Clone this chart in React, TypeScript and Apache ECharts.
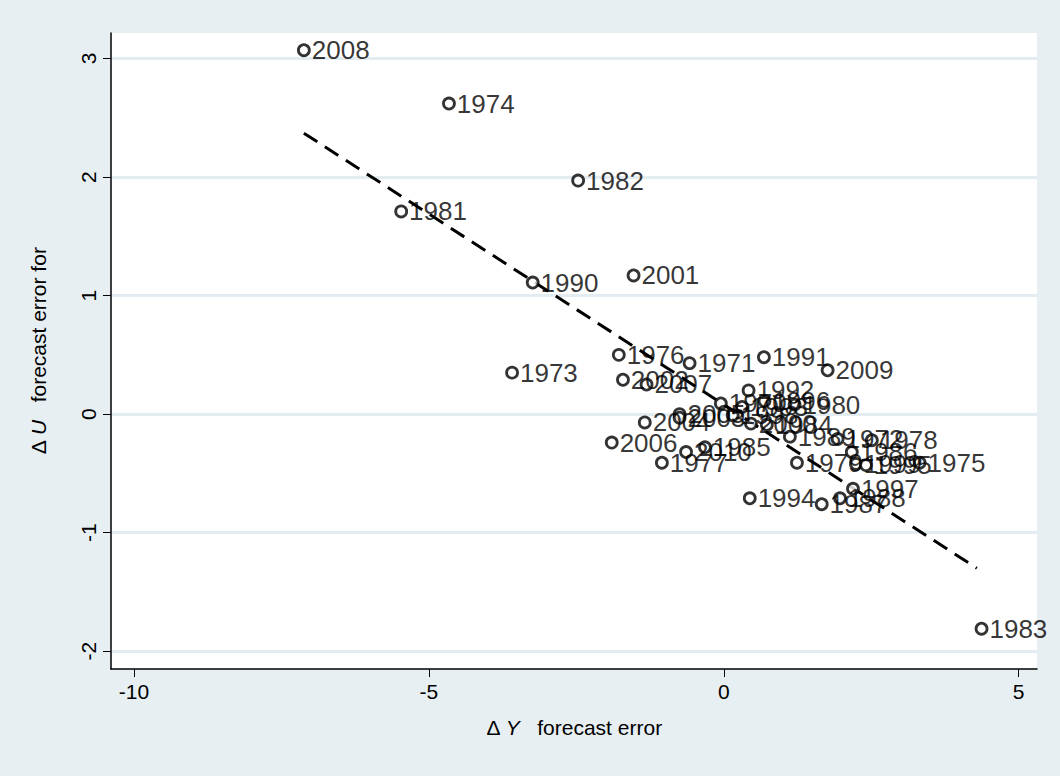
import { useEffect, useRef } from "react";
import * as echarts from "echarts";

const years = [
  "2008", "1974", "1982", "1981", "1990", "2001", "1976", "1973", "2002", "2007",
  "1971", "1991", "2009", "1992", "1970", "1993", "1996", "1980", "2005", "2003",
  "2004", "2000", "1998", "1984", "1989", "1972", "1978", "1986", "1999", "1995",
  "1975", "2006", "1985", "2010", "1977", "1979", "1994", "1987", "1997", "1988",
  "1983",
];
const dY = [
  -7.12, -4.66, -2.47, -5.47, -3.24, -1.53, -1.78, -3.59, -1.71, -1.31,
  -0.58, 0.68, 1.76, 0.42, -0.05, 0.31, 0.69, 1.2, -0.75, -0.75,
  -1.34, 0.46, 0.15, 0.73, 1.12, 1.93, 2.51, 2.17, 2.24, 2.41,
  3.32, -1.9, -0.32, -0.64, -1.05, 1.24, 0.44, 1.66, 2.19, 1.97,
  4.37,
];
const dU = [
  3.07, 2.62, 1.97, 1.71, 1.11, 1.17, 0.5, 0.35, 0.29, 0.25,
  0.43, 0.48, 0.37, 0.2, 0.09, 0.06, 0.11, 0.08, 0.0, -0.03,
  -0.07, -0.08, -0.01, -0.09, -0.19, -0.21, -0.22, -0.32, -0.42, -0.43,
  -0.41, -0.24, -0.28, -0.32, -0.41, -0.41, -0.71, -0.76, -0.63, -0.71,
  -1.81,
];
const fitX = [-7.12, 4.29];
const fitY = [2.37, -1.3];
const xTicks = [-10, -5, 0, 5];
const yTicks = [-2, -1, 0, 1, 2, 3];

export default function App() {
  const ref = useRef<HTMLDivElement>(null);

  useEffect(() => {
    document.body.style.margin = "0";
    if (!ref.current) return;
    const chart = echarts.init(ref.current, null, { renderer: "svg" });
    const font = "Arial, 'Liberation Sans', sans-serif";
    const rich = {
      a: { fontSize: 21, color: "#000", fontFamily: font },
      b: { fontSize: 21, color: "#000", fontStyle: "italic", fontFamily: font },
    };
    chart.setOption({
      animation: false,
      backgroundColor: "#e8eff3",
      textStyle: { fontFamily: font },
      grid: { left: 111, right: 23, top: 33, bottom: 107, show: true, backgroundColor: "#ffffff", borderWidth: 0 },
      xAxis: {
        type: "value",
        min: -10.39,
        max: 5.31,
        axisLine: { show: true, onZero: false, lineStyle: { color: "#000", width: 1.5 } },
        axisTick: { show: true, length: 8, lineStyle: { color: "#000" }, customValues: xTicks },
        axisLabel: { color: "#000", fontSize: 21, margin: 12, customValues: xTicks, formatter: (v: number) => String(v) },
        splitLine: { show: false },
        name: "{a|Δ }{b|Y}{a|   forecast error}",
        nameLocation: "middle",
        nameGap: 48,
        nameTextStyle: { rich },
      },
      yAxis: {
        type: "value",
        min: -2.15,
        max: 3.215,
        axisLine: { show: true, onZero: false, lineStyle: { color: "#000", width: 1.5 } },
        axisTick: { show: true, length: 8, lineStyle: { color: "#000" }, customValues: yTicks },
        axisLabel: { color: "#000", fontSize: 21, rotate: 90, margin: 12, customValues: yTicks, formatter: (v: number) => String(v) },
        splitLine: { show: true, lineStyle: { color: "#e3edf1", width: 3 } },
        name: "{a|Δ }{b|U}{a|   forecast error for}",
        nameLocation: "middle",
        nameGap: 62,
        nameTextStyle: { rich },
      },
      series: [
        {
          type: "line",
          data: fitX.map((x, i) => [x, fitY[i]]),
          showSymbol: false,
          lineStyle: { color: "#000", width: 3, type: [16, 9] },
          z: 1,
        },
        {
          type: "scatter",
          data: dY.map((x, i) => [x, dU[i], years[i]]),
          symbol: "circle",
          symbolSize: 11,
          itemStyle: { color: "#fff", borderColor: "#000", borderWidth: 2.8 },
          label: {
            show: true,
            position: "right",
            distance: 1,
            color: "#000",
            textBorderWidth: 0,
            fontSize: 26,
            fontFamily: font,
            formatter: (p: any) => p.value[2],
          },
          labelLayout: { hideOverlap: false },
          z: 2,
        },
      ],
    });
    return () => chart.dispose();
  }, []);

  return <div ref={ref} style={{ width: 1060, height: 776 }} />;
}
